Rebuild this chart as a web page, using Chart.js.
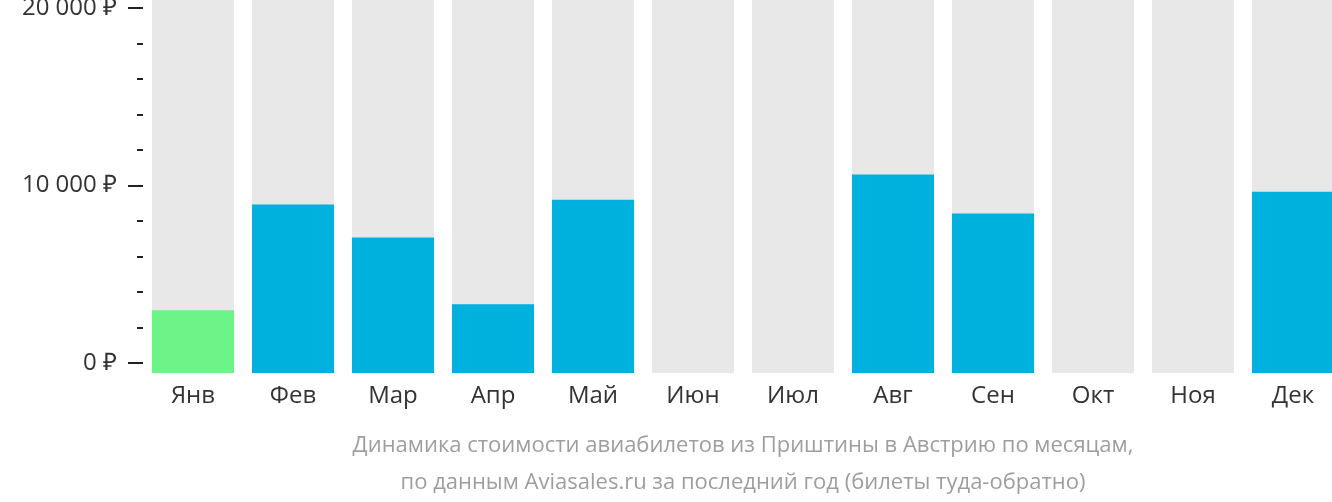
<!DOCTYPE html>
<html>
<head>
<meta charset="utf-8">
<script src="https://cdn.jsdelivr.net/npm/chart.js@4.4.1/dist/chart.umd.min.js"></script>
<style>
  html, body { margin: 0; padding: 0; background: #ffffff; }
  #wrap { width: 1332px; height: 502px; overflow: hidden; }
</style>
</head>
<body>
<div id="wrap">
  <canvas id="grafico" width="1345" height="502"></canvas>
</div>
<script>
var meses = ["Янв", "Фев", "Мар", "Апр", "Май", "Июн", "Июл", "Авг", "Сен", "Окт", "Ноя", "Дек"];
var precos = [2980, 8930, 7080, 3320, 9210, null, null, 10620, 8430, null, null, 9660];
var fundo = [20450, 20450, 20450, 20450, 20450, 20450, 20450, 20450, 20450, 20450, 20450, 20450];
var marcasY = [0, 2000, 4000, 6000, 8000, 10000, 12000, 14000, 16000, 18000, 20000];
var rotulosY = [0, 10000, 20000];
var legenda = [
  "Динамика стоимости авиабилетов из Приштины в Австрию по месяцам,",
  "по данным Aviasales.ru за последний год (билеты туда-обратно)"
];

var BASE = -562;
var COR_AZUL = "#00b1dd";
var COR_VERDE = "#6cf489";
var COR_CINZA = "#e8e8e8";
var ALTURA_LINHA_LEGENDA = 37;

// cor mais barata em verde
var menor = Math.min.apply(null, precos.filter(function (p) { return p !== null; }));
var cores = precos.map(function (p) { return p === menor ? COR_VERDE : COR_AZUL; });

function formatarPreco(v) {
  return String(v).replace(/\B(?=(\d{3})+(?!\d))/g, " ") + " ₽";
}

// ---------- MARCAS DO EIXO Y E LEGENDA ----------
var pluginExtras = {
  id: "extras",
  afterDraw: function (chart) {
    var ctx = chart.ctx;
    var escala = chart.scales.y;
    var area = chart.chartArea;
    ctx.save();
    ctx.strokeStyle = "#222222";
    ctx.lineWidth = 2;
    marcasY.forEach(function (v) {
      var y = Math.round(escala.getPixelForValue(v));
      var tamanho = rotulosY.indexOf(v) >= 0 ? 15 : 6;
      ctx.beginPath();
      ctx.moveTo(area.left - tamanho, y);
      ctx.lineTo(area.left, y);
      ctx.stroke();
    });

    // legenda centrada sobre a área das barras
    ctx.fillStyle = "#9e9e9e";
    ctx.font = "22px 'Open Sans'";
    ctx.textAlign = "center";
    ctx.textBaseline = "middle";
    var centro = (area.left + area.right) / 2;
    var topo = chart.height - 1 - legenda.length * ALTURA_LINHA_LEGENDA;
    legenda.forEach(function (linha, i) {
      ctx.fillText(linha, centro, topo + ALTURA_LINHA_LEGENDA * (i + 0.5));
    });
    ctx.restore();
  }
};

new Chart(document.getElementById("grafico"), {
  type: "bar",
  data: {
    labels: meses,
    datasets: [
      {
        label: "Preço",
        data: precos,
        backgroundColor: cores,
        base: BASE,
        grouped: false,
        order: 1,
        barPercentage: 0.82,
        categoryPercentage: 1
      },
      {
        label: "Fundo",
        data: fundo,
        backgroundColor: COR_CINZA,
        base: BASE,
        grouped: false,
        order: 2,
        barPercentage: 0.82,
        categoryPercentage: 1
      }
    ]
  },
  options: {
    responsive: false,
    animation: false,
    events: [],
    layout: { padding: { left: 0, right: 2, top: 0, bottom: 90 } },
    plugins: {
      legend: { display: false },
      tooltip: { enabled: false },
      title: { display: false }
    },
    scales: {
      x: {
        grid: { display: false },
        border: { display: false },
        ticks: {
          color: "#333333",
          padding: 1,
          font: { family: "'Open Sans'", size: 24 }
        }
      },
      y: {
        min: BASE,
        max: 20450,
        grid: { display: false },
        border: { display: false },
        afterBuildTicks: function (escala) {
          escala.ticks = rotulosY.map(function (v) { return { value: v }; });
        },
        afterFit: function (escala) {
          escala.width = 143;
          escala.paddingTop = 0;
          escala.paddingBottom = 0;
        },
        ticks: {
          color: "#333333",
          padding: 18,
          font: { family: "'Open Sans'", size: 24 },
          callback: function (v) { return formatarPreco(v); }
        }
      }
    }
  },
  plugins: [pluginExtras]
});
</script>
</body>
</html>
